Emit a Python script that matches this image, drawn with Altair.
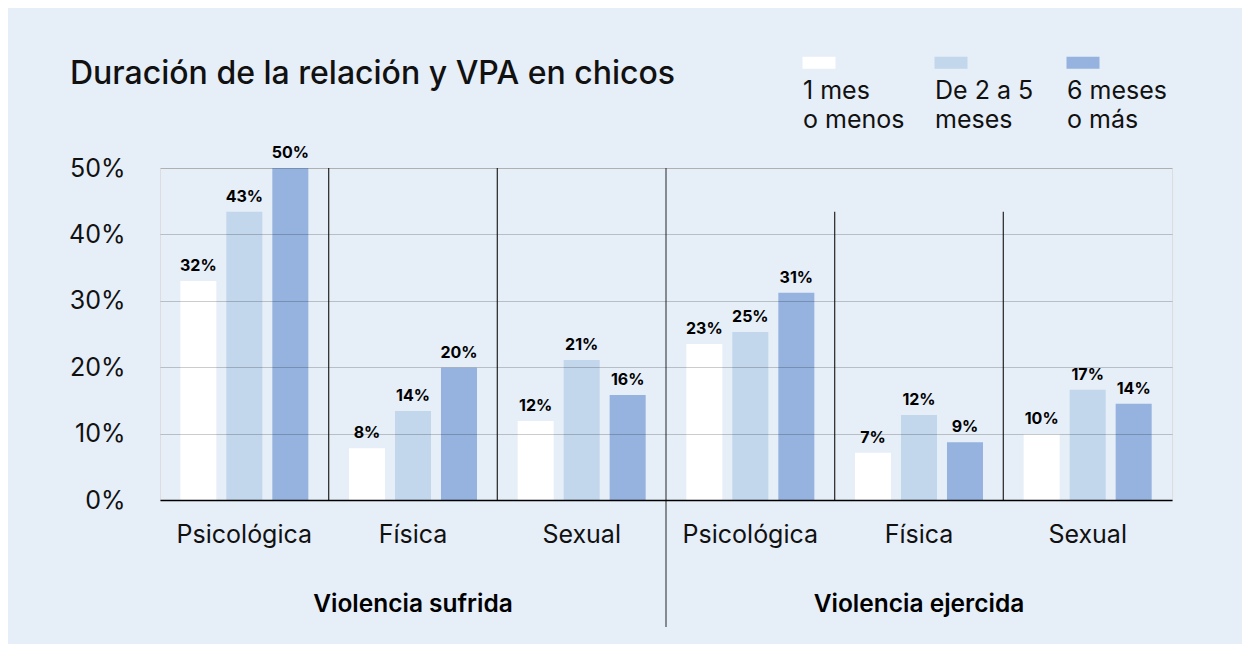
import altair as alt
import pandas as pd

# ---------------- data ----------------
groups = ["Psicológica|S", "Física|S", "Sexual|S", "Psicológica|E", "Física|E", "Sexual|E"]
series = ["1 mes|o menos", "De 2 a 5|meses", "6 meses|o más"]
colors = ["#ffffff", "#c2d6ec", "#95b3de"]

v_1mes = [33.0, 7.8, 11.9, 23.5, 7.1, 9.9]
v_2a5 = [43.4, 13.4, 21.1, 25.3, 12.8, 16.6]
v_6m = [50.0, 19.9, 15.8, 31.2, 8.7, 14.5]

lab_1mes = ["32%", "8%", "12%", "23%", "7%", "10%"]
lab_2a5 = ["43%", "14%", "21%", "25%", "12%", "17%"]
lab_6m = ["50%", "20%", "16%", "31%", "9%", "14%"]

y_ticks = [0, 10, 20, 30, 40, 50]

supergroups = ["Violencia sufrida", "Violencia ejercida"]
super_anchor = ["Física|S", "Física|E"]

sep_inner_groups = ["Física|S", "Sexual|S", "Física|E", "Sexual|E"]
sep_inner_top = [50, 50, 43.4, 43.4]
sep_main_group = ["Psicológica|E"]
sep_main_top = [50]

title = "Duración de la relación y VPA en chicos"

# ---------------- tables ----------------
rows = []
for i, g in enumerate(groups):
    for s, vals, labs in zip(series, [v_1mes, v_2a5, v_6m], [lab_1mes, lab_2a5, lab_6m]):
        rows.append({"group": g, "series": s, "value": vals[i], "label": labs[i]})
df = pd.DataFrame(rows)
df_sup = pd.DataFrame({"group": super_anchor, "name": supergroups})
df_sep = pd.DataFrame({"group": sep_inner_groups, "value": sep_inner_top})
df_main = pd.DataFrame({"group": sep_main_group, "value": sep_main_top})

FONT = "Inter"
TXT = "#111111"
LBL = 25

xscale = alt.Scale(type="band", domain=groups, paddingInner=0, paddingOuter=0)
yscale = alt.Scale(domain=[0, 50], nice=False)
offscale = alt.Scale(domain=series, paddingInner=0.217, paddingOuter=0.442)
colscale = alt.Scale(domain=series, range=colors)

x_axis = alt.Axis(
    labelExpr="split(datum.label, '|')[0]", labelAngle=0, ticks=False, tickSize=0,
    labelPadding=42, labelBaseline="alphabetic", labelFontSize=LBL, labelColor=TXT,
    labelFont=FONT, domainColor="#000000", domainWidth=1.5, grid=False, zindex=1,
)
y_axis = alt.Axis(
    values=y_ticks, labelExpr="datum.value + '%'", ticks=False, domain=False,
    labelPadding=35, labelFontSize=LBL, labelColor=TXT, labelFont=FONT,
    grid=True, gridColor="#000000", gridOpacity=0.2, gridWidth=1, zindex=1,
)

legend = alt.Legend(
    orient="none", legendX=618, legendY=-82, direction="horizontal", title=None,
    symbolType="M1,-3.5H3.75V-2.5H1Z", symbolSize=576, symbolStrokeWidth=0,
    symbolOpacity=1, labelExpr="split(datum.label, '|')", labelFontSize=LBL,
    labelColor=TXT, labelFont=FONT, labelOffset=0, labelBaseline="alphabetic",
    columnPadding=5, gridAlign="all", labelLimit=300,
)

base = alt.Chart(df)

bars = base.mark_bar().encode(
    x=alt.X("group:N", scale=xscale, axis=x_axis, title=None),
    xOffset=alt.XOffset("series:N", scale=offscale),
    y=alt.Y("value:Q", scale=yscale, axis=y_axis, title=None),
    color=alt.Color("series:N", scale=colscale, legend=legend),
)

values = base.mark_text(
    baseline="alphabetic", dy=-10, font=FONT, fontSize=16, fontWeight=700, color="#000000"
).encode(
    x=alt.X("group:N", scale=xscale, title=None),
    xOffset=alt.XOffset("series:N", scale=offscale),
    y=alt.Y("value:Q", scale=yscale, title=None),
    text="label:N",
)

seps = alt.Chart(df_sep).mark_rule(color="#333333", strokeWidth=1.3).encode(
    x=alt.X("group:N", scale=xscale, bandPosition=0, title=None),
    y=alt.Y("value:Q", scale=yscale, title=None),
    y2=alt.datum(0),
)

main_sep = alt.Chart(df_main).mark_rule(color="#666a70", strokeWidth=1.5).encode(
    x=alt.X("group:N", scale=xscale, bandPosition=0, title=None),
    y=alt.Y("value:Q", scale=yscale, title=None),
    y2=alt.value(459),
)

sup = alt.Chart(df_sup).mark_text(
    baseline="alphabetic", font=FONT, fontSize=24.5, fontWeight=600, color="#000000"
).encode(
    x=alt.X("group:N", scale=xscale, title=None),
    y=alt.value(444),
    text="name:N",
)

chart = alt.layer(bars, values, seps, main_sep, sup).properties(
    width=1012,
    height=332,
    padding={"left": 152, "top": 160, "right": 70, "bottom": 144},
    autosize=alt.AutoSizeParams(type="none"),
    background="#e6eef8",
    title=alt.TitleParams(
        text=title, anchor="start", frame="group", dx=-90, dy=30, offset=0,
        baseline="alphabetic", fontSize=32, fontWeight=500, font=FONT, color=TXT,
    ),
).configure_view(stroke=None).configure(
    font=FONT, style={"guide-label": {"lineHeight": 29}}
)

chart.save("out.html", embed_options={"renderer": "svg", "actions": False})
